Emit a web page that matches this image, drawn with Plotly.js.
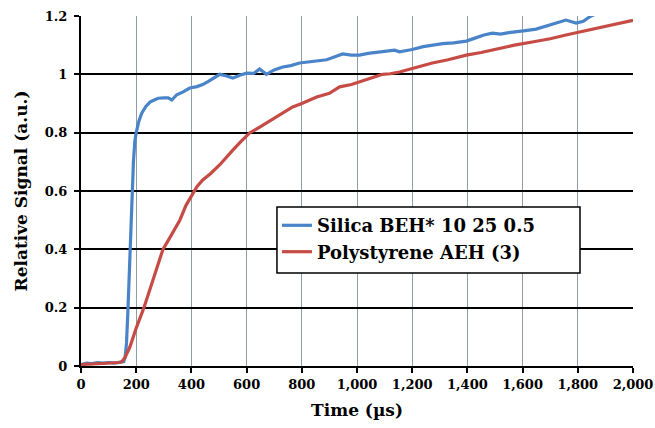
<!DOCTYPE html>
<html>
<head>
<meta charset="utf-8">
<script src="https://cdn.plot.ly/plotly-3.0.1.min.js"></script>
<style>html,body{margin:0;padding:0;background:#fff;}#chart{width:655px;height:428px;}</style>
</head>
<body>
<div id="chart"></div>
<script>
var silicaName = "Silica BEH* 10 25 0.5";
var silicaX = [0,20,40,60,80,100,120,140,155,160,165,170,175,180,185,190,195,200,210,220,235,250,265,280,300,316,329,347,370,394,420,441,460,478,503,525,550,575,600,625,647,672,700,731,760,792,820,850,890,920,948,980,1009,1040,1081,1110,1136,1154,1200,1240,1273,1310,1350,1396,1430,1460,1490,1520,1550,1577,1610,1649,1680,1722,1757,1794,1820,1841,1860,1880];
var silicaY = [0.005,0.01,0.008,0.012,0.01,0.012,0.01,0.012,0.015,0.03,0.08,0.19,0.33,0.48,0.6,0.7,0.77,0.80,0.84,0.867,0.89,0.905,0.912,0.918,0.919,0.919,0.912,0.93,0.94,0.953,0.958,0.965,0.975,0.985,1.0,0.995,0.987,0.997,1.004,1.003,1.018,1.0,1.015,1.025,1.03,1.039,1.042,1.045,1.05,1.06,1.07,1.066,1.066,1.072,1.076,1.08,1.083,1.077,1.085,1.095,1.10,1.105,1.108,1.114,1.125,1.135,1.141,1.138,1.143,1.145,1.15,1.155,1.165,1.176,1.186,1.176,1.182,1.196,1.205,1.21];

var polyName = "Polystyrene AEH (3)";
var polyX = [0,20,40,60,80,100,120,140,148,160,177,200,228,245,260,280,297,322,340,358,380,405,420,441,470,503,525,550,580,611,640,672,700,730,767,800,854,900,937,980,1034,1060,1093,1120,1154,1200,1240,1273,1330,1396,1450,1515,1570,1635,1700,1757,1820,1877,1940,1993,2000];
var polyY = [0.005,0.006,0.008,0.007,0.01,0.009,0.01,0.012,0.015,0.03,0.065,0.13,0.20,0.25,0.295,0.35,0.40,0.44,0.47,0.50,0.55,0.593,0.615,0.638,0.66,0.69,0.715,0.74,0.77,0.799,0.815,0.833,0.85,0.865,0.888,0.90,0.922,0.935,0.957,0.965,0.98,0.99,1.0,1.002,1.008,1.02,1.03,1.039,1.05,1.066,1.075,1.09,1.1,1.111,1.122,1.135,1.148,1.159,1.17,1.183,1.185];

var xTicks = [0,200,400,600,800,1000,1200,1400,1600,1800,2000];
var yTicks = [0,0.2,0.4,0.6,0.8,1,1.2];
var yTickText = ["0","0.2","0.4","0.6","0.8","1","1.2"];

var serif = "DejaVu Serif, serif";

var traces = [
  {x: silicaX, y: silicaY, name: silicaName, type: "scatter", mode: "lines",
   line: {color: "#4a84c8", width: 3.2}},
  {x: polyX, y: polyY, name: polyName, type: "scatter", mode: "lines",
   line: {color: "#c64b45", width: 3.2}}
];

var layout = {
  width: 655, height: 428,
  margin: {l: 81, r: 22, t: 16, b: 62},
  paper_bgcolor: "#ffffff",
  plot_bgcolor: "#ffffff",
  showlegend: true,
  legend: {
    x: 0.355, y: 0.454, xanchor: "left", yanchor: "top",
    bgcolor: "rgba(0,0,0,0)", borderwidth: 0,
    font: {family: serif, size: 18, color: "#000", weight: "bold"},
    itemwidth: 30, tracegroupgap: 0
  },
  shapes: [
    {type: "rect", xref: "paper", yref: "paper", x0: 0.355, x1: 0.904, y0: 0.266, y1: 0.454,
     fillcolor: "#ffffff", line: {color: "#000", width: 1.5}, layer: "above"}
  ],
  xaxis: {
    range: [0, 2000], tickvals: xTicks, ticktext: xTicks.map(function(v){return v.toLocaleString("en-US");}),
    showgrid: true, gridcolor: "#8d9ea8", gridwidth: 1,
    showline: true, linecolor: "#000", linewidth: 2,
    ticks: "outside", ticklen: 5, tickwidth: 2, tickcolor: "#000",
    zeroline: false, fixedrange: true,
    tickfont: {family: serif, size: 13, color: "#000", weight: "bold"},
    title: {text: "Time (µs)", font: {family: serif, size: 17, color: "#000", weight: "bold"}, standoff: 14}
  },
  yaxis: {
    range: [0, 1.2], tickvals: yTicks, ticktext: yTickText,
    showgrid: true, gridcolor: "#000", gridwidth: 2,
    showline: true, linecolor: "#000", linewidth: 2,
    ticks: "outside", ticklen: 5, tickwidth: 2, tickcolor: "#000",
    ticklabelstandoff: 4,
    zeroline: false, fixedrange: true,
    tickfont: {family: serif, size: 13, color: "#000", weight: "bold"},
    title: {text: "Relative Signal (a.u.)", font: {family: serif, size: 17, color: "#000", weight: "bold"}, standoff: 13}
  }
};

Plotly.newPlot("chart", traces, layout, {displayModeBar: false, staticPlot: true});
</script>
</body>
</html>
